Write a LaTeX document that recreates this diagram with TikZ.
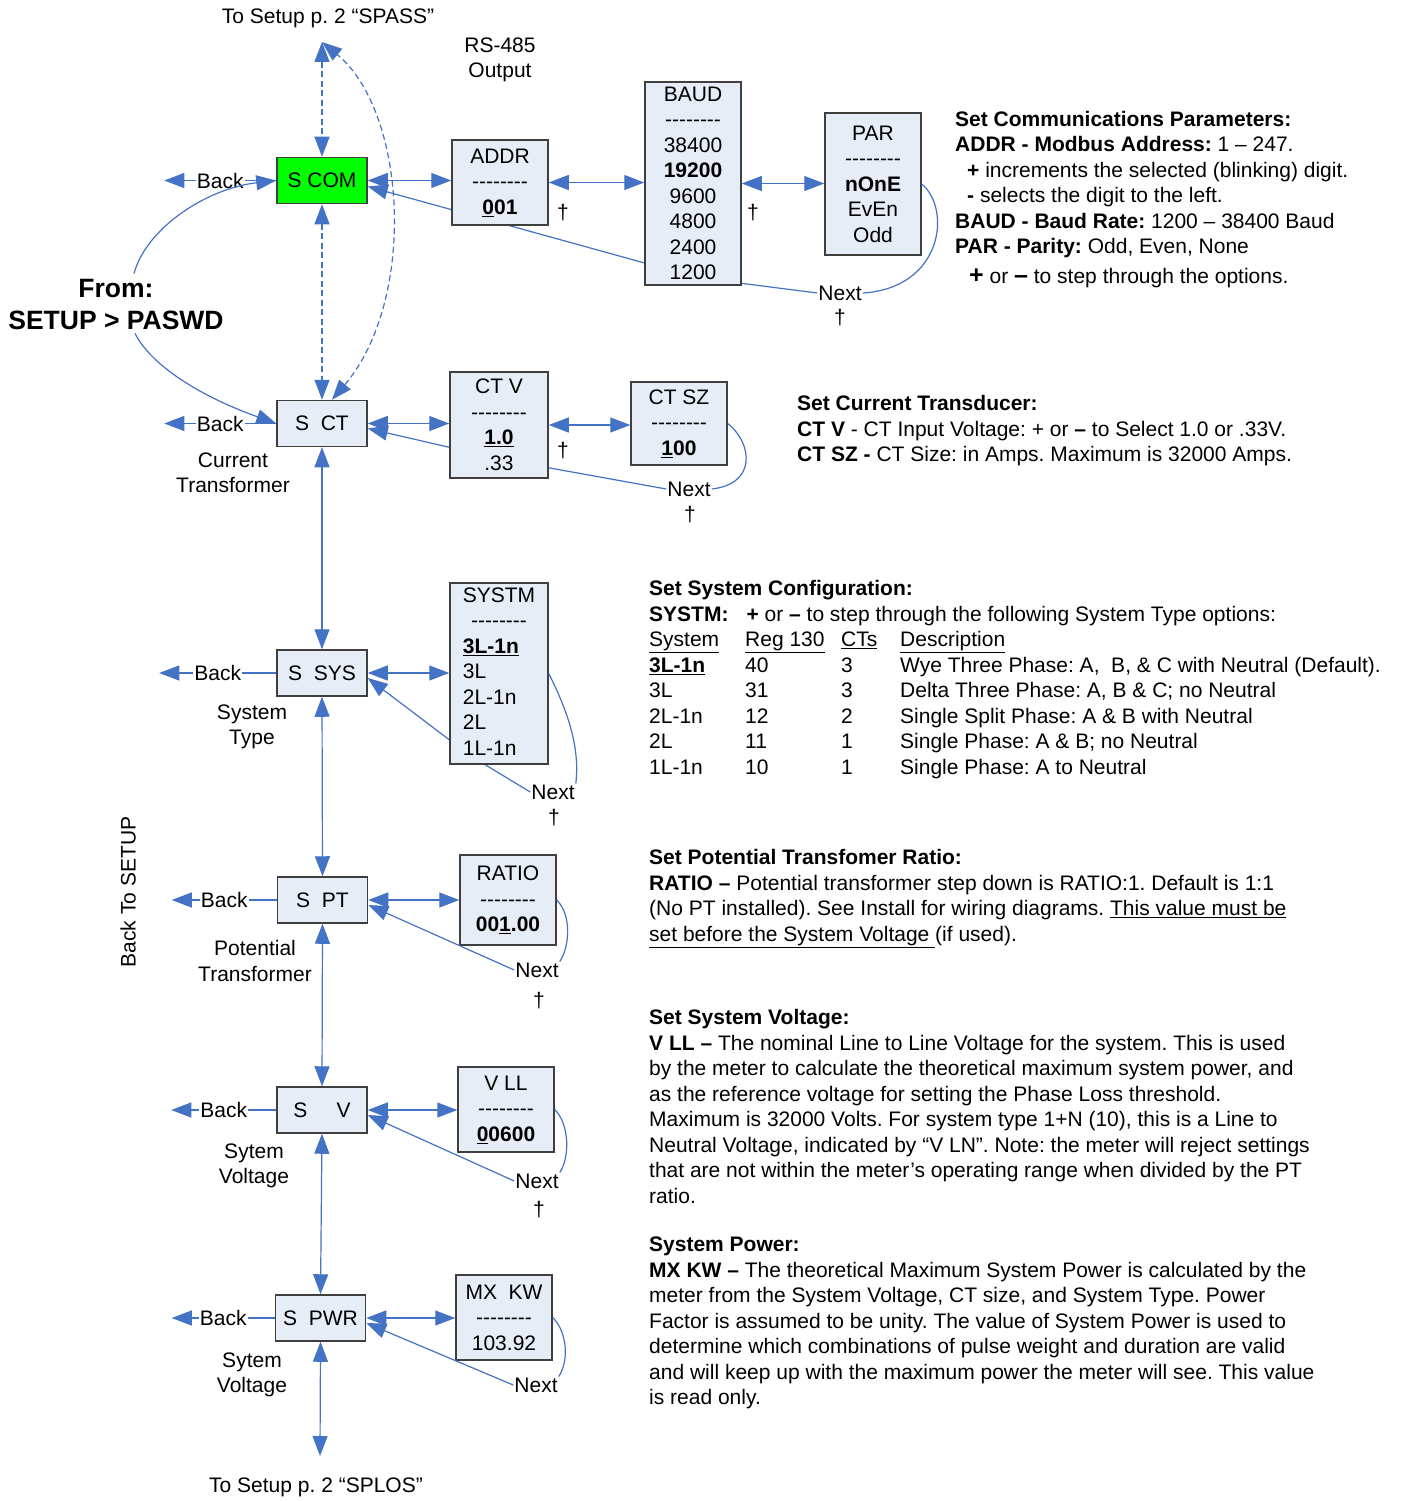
\documentclass[tikz,border=0pt]{standalone}
\usepackage{fontspec}
\setmainfont{Liberation Sans}
\usetikzlibrary{arrows.meta,calc,positioning,backgrounds}
\definecolor{flowblue}{HTML}{4472C4}
\definecolor{boxfill}{HTML}{E7EDF7}
\definecolor{boxline}{HTML}{3F3F3F}
\definecolor{comgreen}{HTML}{00FF00}
\newcommand{\fs}{\fontsize{21}{25.5}\selectfont\frenchspacing}
\newcommand{\dashrow}{-{}-{}-{}-{}-{}-{}-{}-}
\newcommand{\sysrow}[4]{\makebox[96pt][l]{#1}\makebox[96pt][l]{#2}\makebox[59pt][l]{#3}#4}
\tikzset{
  setbox/.style={draw=boxline, fill=boxfill, line width=1.5pt, minimum width=90pt,
                 minimum height=46pt, inner sep=0pt, font=\fs},
  valbox/.style={draw=boxline, fill=boxfill, line width=1.5pt, minimum width=96pt,
                 inner sep=0pt, align=center, font=\fs},
  txt/.style={font=\fs, inner sep=0pt, align=center},
  note/.style={font=\fs, inner sep=0pt, align=left, anchor=north west},
  backlbl/.style={font=\fs, fill=white, inner sep=1pt},
  nextlbl/.style={font=\fs, inner sep=1pt},
  link/.style={draw=flowblue, line width=1.2pt},
  dashlink/.style={dash pattern=on 6pt off 3.5pt},
  arr/.style={link, -{Triangle[length=20pt,width=15pt]}},
  darr/.style={link, {Triangle[length=20pt,width=15pt]}-{Triangle[length=20pt,width=15pt]}}}

\begin{document}
\begin{tikzpicture}[x=1pt, y=-1pt]
  \useasboundingbox (0,0) rectangle (1400,1501);

  \node[setbox, fill=comgreen] (scom) at (322,180.5) {S COM};
  \node[setbox] (sct) at (322,423.5) {S\ \ CT};
  \node[setbox] (ssys) at (322,673) {S\ \ SYS};
  \node[setbox] (spt) at (322.5,900) {S\ \ PT};
  \node[setbox] (sv) at (322,1110) {S\ \ \ \ \ V};
  \node[setbox] (spwr) at (320.5,1318) {S\ \ PWR};

  \node[valbox, minimum height=85pt] (addr) at (500,182.5)
    {ADDR\\\dashrow\\\textbf{\underline{0}01}};
  \node[valbox, minimum height=203pt] (baud) at (693,183.5)
    {BAUD\\\dashrow\\38400\\\textbf{19200}\\9600\\4800\\2400\\1200};
  \node[valbox, minimum height=142pt] (par) at (873,184)
    {PAR\\\dashrow\\\textbf{nOnE}\\EvEn\\Odd};
  \node[valbox, minimum width=98pt, minimum height=106pt] (ctv) at (499,425)
    {CT V\\\dashrow\\\textbf{\underline{1.0}}\\.33};
  \node[valbox, minimum height=83pt] (ctsz) at (679,423.5)
    {CT SZ\\\dashrow\\\textbf{\underline{1}00}};
  \node[valbox, minimum width=98pt, minimum height=181pt] (systm) at (499,673.5)
    {\begin{tabular}{@{}l@{}}\multicolumn{1}{@{}c@{}}{SYSTM}\\
     \multicolumn{1}{@{}c@{}}{\dashrow}\\\textbf{\underline{3L-1n}}\\3L\\2L-1n\\2L\\1L-1n\end{tabular}};
  \node[valbox, minimum height=90pt] (ratio) at (508,900)
    {RATIO\\\dashrow\\\textbf{00\underline{1}.00}};
  \node[valbox, minimum height=85pt] (vll) at (506,1109.5)
    {V LL\\\dashrow\\\textbf{\underline{0}0600}};
  \node[valbox, minimum height=85pt] (mxkw) at (504,1317.5)
    {MX\ \ KW\\\dashrow\\103.92};

  \node[txt] (spass) at (328,18) {To Setup p. 2 “SPASS”};
  \coordinate (spasstip) at (322,42);
  \node[txt] (splos) at (316,1487) {To Setup p. 2 “SPLOS”};
  \coordinate (splostip) at (320,1456);
  \node[txt] (rs485) at (500,60) {RS-485\\Output};
  \node[txt, font=\bfseries\fontsize{26.5}{32}\selectfont] (from) at (116,305) {From:\\SETUP > PASWD};
  \node[txt, rotate=90] (backsetup) at (128,892) {Back To SETUP};

  \node[txt] (ctlbl) at (233,473) {Current\\Transformer};
  \node[txt] (syslbl) at (252,727) {System\\Type};
  \node[txt] (ptlbl) at (255,961) {Potential\\Transformer};
  \node[txt] (vlbl) at (254,1166) {Sytem\\Voltage};
  \node[txt] (pwrlbl) at (252,1375) {Sytem\\Voltage};

  \node[nextlbl] (nxcom) at (840,293) {Next};
  \node[nextlbl] (nxct) at (689,489) {Next};
  \node[nextlbl] (nxsys) at (553,792) {Next};
  \node[nextlbl] (nxpt) at (537,970) {Next};
  \node[nextlbl] (nxv) at (537,1181) {Next};
  \node[nextlbl] (nxpwr) at (536,1385) {Next};
  \foreach \p [count=\i] in {(563,213),(753,213),(840,318),(563,451),(690,515),(554,818),(539,1001),(539,1210)}
    \node[txt] (dag\i) at \p {†};

  \begin{scope}[on background layer]
    \fill[white] (0,0) rectangle (1400,1501);
    \draw[arr] (nxcom.west) -- ($(baud.south)+(5,-8)$) -- ([yshift=-6pt]scom.east);
    \draw[arr] (nxct.west) -- ($(ctv.center)+(1,34)$) -- ([yshift=-5pt]sct.east);
    \draw[arr] (nxsys.west) -- ($(systm.center)+(-29,82)$) -- ([yshift=-5pt]ssys.east);
  \end{scope}

  \foreach \bx/\len in {scom/112,sct/112,ssys/117,spt/105,sv/105,spwr/103}
    \draw[arr] (\bx.west) -- ++(-\len,0) node[midway, backlbl] {Back};
  \draw[arr] ([xshift=18pt,yshift=6pt]from.north) .. controls +(12,-45) and +(-70,8) .. (scom.west);
  \draw[arr] ([xshift=19pt,yshift=-3pt]from.south) .. controls +(18,35) and +(-70,-25) .. (sct.west);

  \draw[darr, dashlink] (spasstip) -- (scom.north);
  \draw[darr, dashlink] (scom.south) -- (sct.north);
  \draw[darr, dashlink] ([xshift=10pt]sct.north) .. controls +(85,-100) and +(85,70) .. (spasstip);
  \draw[darr] (sct.south) -- (ssys.north);
  \draw[darr] (ssys.south) -- (spt.north);
  \draw[darr] (spt.south) -- (sv.north);
  \draw[darr] (sv.south) -- (spwr.north);
  \draw[darr] (spwr.south) -- (splostip);

  \draw[darr] (scom.east) -- (addr.west |- scom.east);
  \draw[darr] (addr.east) -- (baud.west |- addr.east);
  \draw[darr] (baud.east) -- (par.west |- baud.east);
  \draw[darr] (sct.east) -- (ctv.west |- sct.east);
  \draw[darr] (ctv.east) -- (ctsz.west |- ctv.east);
  \draw[darr] (ssys.east) -- (systm.west |- ssys.east);
  \draw[darr] (spt.east) -- (ratio.west |- spt.east);
  \draw[darr] (sv.east) -- (vll.west |- sv.east);
  \draw[darr] (spwr.east) -- (mxkw.west |- spwr.east);

  \draw[link] (par.east) .. controls +(30,25) and +(80,-5) .. (nxcom.east);
  \draw[link] (ctsz.east) .. controls +(25,20) and +(45,-5) .. (nxct.east);
  \draw[link] (systm.east) .. controls +(15,30) and +(5,-40) .. (nxsys.north east);
  \draw[link] (ratio.east) .. controls +(15,15) and +(10,-15) .. (nxpt.north east);
  \draw[link] (vll.east) .. controls +(15,15) and +(10,-15) .. (nxv.north east);
  \draw[link] (mxkw.east) .. controls +(15,15) and +(10,-15) .. (nxpwr.north east);
  \draw[arr] (nxpt.west) -- ([yshift=-5pt]spt.east);
  \draw[arr] (nxv.west) -- ([yshift=-5pt]sv.east);
  \draw[arr] (nxpwr.west) -- ([yshift=-5pt]spwr.east);

  \node[note] (comnote) at (955,108)
    {\strut\textbf{Set Communications Parameters:}\\
     \textbf{ADDR - Modbus Address:} 1 – 247.\\
     \hspace*{12pt}\textbf{+} increments the selected (blinking) digit.\\
     \hspace*{12pt}\textbf{-} selects the digit to the left.\\
     \textbf{BAUD - Baud Rate:} 1200 – 38400 Baud\\
     \textbf{PAR - Parity:} Odd, Even, None\\[4.5pt]
     \hspace*{14pt}{\fontsize{25}{25.5}\selectfont\textbf{+}} or {\fontsize{25}{25.5}\selectfont\textbf{–}} to step through the options.};
  \node[note] (ctnote) at (797,392.6)
    {\strut\textbf{Set Current Transducer:}\\
     \textbf{CT V} - CT Input Voltage: + or \textbf{–} to Select 1.0 or .33V.\\
     \textbf{CT SZ -} CT Size: in Amps. Maximum is 32000 Amps.};
  \node[note] (sysnote) at (649,577.7)
    {\strut\textbf{Set System Configuration:}\\
     \textbf{SYSTM:}\hspace{18pt}\textbf{+} or \textbf{–} to step through the following System Type options:\\
     \sysrow{\underline{System}}{\underline{Reg 130}}{\underline{CTs}}{\underline{Description}}\\
     \sysrow{\textbf{\underline{3L-1n}}}{40}{3}{Wye Three Phase: A,\ \ B, \& C with Neutral (Default).}\\
     \sysrow{3L}{31}{3}{Delta Three Phase: A, B \& C; no Neutral}\\
     \sysrow{2L-1n}{12}{2}{Single Split Phase: A \& B with Neutral}\\
     \sysrow{2L}{11}{1}{Single Phase: A \& B; no Neutral}\\
     \sysrow{1L-1n}{10}{1}{Single Phase: A to Neutral}};
  \node[note] (ptnote) at (649,846.6)
    {\strut\textbf{Set Potential Transfomer Ratio:}\\
     \textbf{RATIO –} Potential transformer step down is RATIO:1. Default is 1:1\\
     (No PT installed). See Install for wiring diagrams. \underline{This value must be}\\
     \underline{set before the System Voltage\ }(if used).};
  \node[note] (vnote) at (649,1006.7)
    {\strut\textbf{Set System Voltage:}\\
     \textbf{V LL –} The nominal Line to Line Voltage for the system. This is used\\
     by the meter to calculate the theoretical maximum system power, and\\
     as the reference voltage for setting the Phase Loss threshold.\\
     Maximum is 32000 Volts. For system type 1+N (10), this is a Line to\\
     Neutral Voltage, indicated by “V LN”. Note: the meter will reject settings\\
     that are not within the meter’s operating range when divided by the PT\\
     ratio.};
  \node[note] (pwrnote) at (649,1233.6)
    {\strut\textbf{System Power:}\\
     \textbf{MX KW –} The theoretical Maximum System Power is calculated by the\\
     meter from the System Voltage, CT size, and System Type. Power\\
     Factor is assumed to be unity. The value of System Power is used to\\
     determine which combinations of pulse weight and duration are valid\\
     and will keep up with the maximum power the meter will see. This value\\
     is read only.};
\end{tikzpicture}
\end{document}
